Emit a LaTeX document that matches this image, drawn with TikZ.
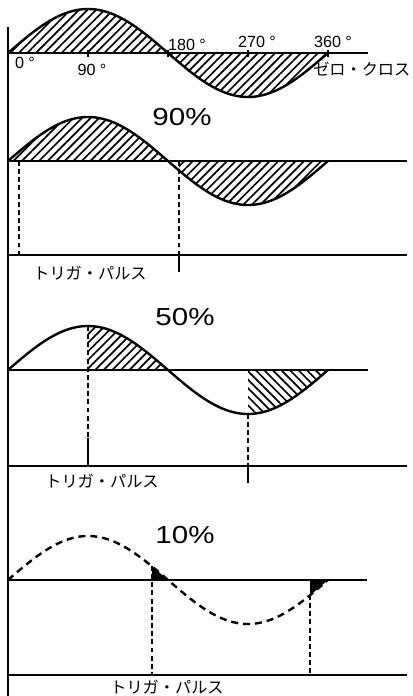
\documentclass[tikz,border=0pt]{standalone}
\usepackage{graphicx}
\usepackage{fontspec}
\setmainfont{Liberation Sans}
\newfontfamily\jpfont{Noto Sans CJK JP}
\usetikzlibrary{patterns.meta}

\begin{document}
\begin{tikzpicture}[x=0.025cm,y=-0.025cm,
  line/.style={line width=1.7pt},
  wave/.style={line width=1.7pt},
  trig/.style={line width=1.8pt,dash pattern=on 3.5pt off 2.3pt},
  dwave/.style={line width=1.7pt,dash pattern=on 5pt off 3.5pt},
  hatch/.style={pattern={Lines[angle=45,distance=4.3pt,line width=1.2pt]}},
  hatchb/.style={pattern={Lines[angle=-45,distance=4.3pt,line width=1.2pt]}},
  deg/.style={font=\fontsize{11.5}{13}\selectfont},
  pct/.style={font=\fontsize{17.5}{20}\selectfont},
  jp/.style={font=\fontsize{11.5}{13}\jpfont}]
\useasboundingbox (0,0) rectangle (413,696);
\draw[line] (8,27) -- (8,696);

\fill[hatch] (8,53) -- plot[domain=8:328,samples=100] (\x,{53-44*sin((\x-8)*1.125)}) -- cycle;
\draw[wave] plot[domain=8:328,samples=100] (\x,{53-44*sin((\x-8)*1.125)});
\draw[line] (8,53) -- (368,53);
\foreach \t in {88,168,248,328} \draw[line width=1pt] (\t,50) -- (\t,57);
\node[deg] (d0) at (25,63) {0 °};
\node[deg] (d90) at (92,70) {90 °};
\node[deg] (d180) at (187,45) {180 °};
\node[deg] (d270) at (257,42) {270 °};
\node[deg] (d360) at (333,42) {360 °};
\node[jp,anchor=east,inner sep=1pt] (zc) at (412,69) {ゼロ・クロス};

\node[pct] (p90) at (182,117) {\scalebox{1.2}[1]{90\%}};
\fill[hatch] (8,161) -- plot[domain=8:168,samples=60] (\x,{161-44*sin((\x-8)*1.125)}) -- cycle;
\fill[hatch] (179,161) -- plot[domain=179:328,samples=60] (\x,{161-44*sin((\x-8)*1.125)}) -- cycle;
\draw[wave] plot[domain=8:328,samples=100] (\x,{161-44*sin((\x-8)*1.125)});
\draw[line] (8,161) -- (407,161);
\draw[line] (8,255) -- (407,255);
\coordinate (a1) at (19,161);
\coordinate (a2) at (179,161);
\draw[trig] (a1) -- (a1 |- 0,255);
\draw[trig] (a2) -- (a2 |- 0,255);
\draw[line] (a2 |- 0,255) -- (a2 |- 0,272);
\node[jp] (t90) at (90,273) {トリガ・パルス};

\node[pct] (p50) at (185,317) {\scalebox{1.2}[1]{50\%}};
\fill[hatch] (88,370) -- plot[domain=88:168,samples=40] (\x,{370-44*sin((\x-8)*1.125)}) -- cycle;
\fill[hatchb] (248,370) -- plot[domain=248:328,samples=40] (\x,{370-44*sin((\x-8)*1.125)}) -- cycle;
\draw[wave] plot[domain=8:328,samples=100] (\x,{370-44*sin((\x-8)*1.125)});
\draw[line] (8,370) -- (368,370);
\draw[line] (8,466) -- (407,466);
\coordinate (b1) at (88,326);
\coordinate (b2) at (248,414);
\draw[trig] (b1) -- (88,438);
\draw[line] (88,438) -- (b1 |- 0,466);
\draw[trig] (b2) -- (b2 |- 0,466);
\draw[line] (b2 |- 0,466) -- (b2 |- 0,483);
\node[jp] (t50) at (102,481) {トリガ・パルス};

\node[pct] (p10) at (185,535) {\scalebox{1.2}[1]{10\%}};
\draw[dwave] plot[domain=8:328,samples=100] (\x,{580-44*sin((\x-8)*1.125)});
\fill (152,580) -- plot[domain=152:168,samples=10] (\x,{580-44*sin((\x-8)*1.125)}) -- cycle;
\fill (310,580) -- plot[domain=310:328,samples=10] (\x,{580-44*sin((\x-8)*1.125)}) -- cycle;
\draw[line] (8,580) -- (367,580);
\draw[line] (8,675) -- (407,675);
\coordinate (c1) at (152,566);
\coordinate (c2) at (310,595);
\draw[trig] (c1) -- (c1 |- 0,675);
\draw[trig] (c2) -- (c2 |- 0,675);
\node[jp] (t10) at (167,687) {トリガ・パルス};
\end{tikzpicture}
\end{document}
